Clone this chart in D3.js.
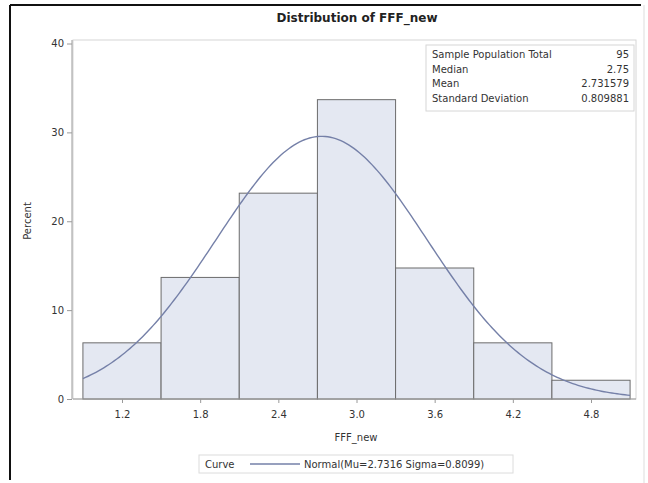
<!DOCTYPE html>
<html>
<head>
<meta charset="utf-8">
<script src="https://cdn.jsdelivr.net/npm/d3@7"></script>
<style>
  body { margin: 0; background: #fff; }
  svg { display: block; font-family: "DejaVu Sans", "Liberation Sans", Arial, sans-serif; }
</style>
</head>
<body>
<svg id="chart" width="648" height="483"></svg>
<script>
// 読み取った値
const binMids = [1.2, 1.8, 2.4, 3.0, 3.6, 4.2, 4.8];
const binWidth = 0.6;
const percents = [6.32, 13.68, 23.16, 33.68, 14.74, 6.32, 2.11];
const yTicks = [0, 10, 20, 30, 40];
const xTicks = [1.2, 1.8, 2.4, 3.0, 3.6, 4.2, 4.8];
const statLabels = ['Sample Population Total', 'Median', 'Mean', 'Standard Deviation'];
const statValues = ['95', '2.75', '2.731579', '0.809881'];
const mu = 2.7316;
const sigma = 0.8099;

const svg = d3.select('#chart');
const font = '"DejaVu Sans", "Liberation Sans", Arial, sans-serif';

// 外枠
svg.append('line').attr('x1', 10).attr('y1', 5).attr('x2', 10).attr('y2', 480)
  .attr('stroke', '#111').attr('stroke-width', 2);
svg.append('line').attr('x1', 10).attr('y1', 5).attr('x2', 641).attr('y2', 5)
  .attr('stroke', '#111').attr('stroke-width', 2);
svg.append('line').attr('x1', 644).attr('y1', 5).attr('x2', 644).attr('y2', 483)
  .attr('stroke', '#ddd').attr('stroke-width', 1);

const x = d3.scaleLinear().domain([1.2, 4.8]).range([122, 591]);
const y = d3.scaleLinear().domain([0, 40]).range([399, 43.5]);

const plot = { left: 73, top: 40, right: 636, bottom: 399 };

// 壁の枠
svg.append('rect')
  .attr('x', plot.left).attr('y', plot.top)
  .attr('width', plot.right - plot.left).attr('height', plot.bottom - plot.top)
  .attr('fill', 'none').attr('stroke', '#d6d6d6');

svg.append('text')
  .attr('x', 357).attr('y', 22)
  .attr('text-anchor', 'middle')
  .attr('font-size', 12).attr('font-weight', 'bold').attr('fill', '#222')
  .text('Distribution of FFF_new');

// 棒
svg.append('g').selectAll('rect')
  .data(binMids)
  .join('rect')
  .attr('x', (d) => x(d - binWidth / 2))
  .attr('y', (d, i) => y(percents[i]))
  .attr('width', (d) => x(d + binWidth / 2) - x(d - binWidth / 2))
  .attr('height', (d, i) => y(0) - y(percents[i]))
  .attr('fill', '#e4e8f2')
  .attr('stroke', '#6b6b6b')
  .attr('stroke-width', 1);

// 正規分布曲線（Mu, Sigma から）
const pdf = v => Math.exp(-0.5 * ((v - mu) / sigma) ** 2) / (sigma * Math.sqrt(2 * Math.PI));
const curveXs = d3.range(0.9, 5.1001, 0.02);
svg.append('path')
  .datum(curveXs)
  .attr('d', d3.line().x(d => x(d)).y(d => y(100 * binWidth * pdf(d))))
  .attr('fill', 'none')
  .attr('stroke', '#7580a8')
  .attr('stroke-width', 1.4);

// 軸
const yAxis = svg.append('g')
  .attr('transform', `translate(${plot.left - 1},0)`)
  .call(d3.axisLeft(y).tickValues(yTicks).tickSize(5).tickPadding(3));
const xAxis = svg.append('g')
  .attr('transform', `translate(0,${plot.bottom})`)
  .call(d3.axisBottom(x).tickValues(xTicks).tickFormat(d3.format('.1f')).tickSize(4).tickPadding(8));

[yAxis, xAxis].forEach(g => {
  g.select('.domain').attr('stroke', '#9a9a9a');
  g.selectAll('.tick line').attr('stroke', '#9a9a9a');
  g.selectAll('.tick text').attr('fill', '#333').attr('font-size', 10)
    .attr('font-family', font);
});
xAxis.select('.domain').attr('d', `M${plot.left},0H${plot.right}`);
yAxis.select('.domain').attr('d', `M0,${plot.top}V${plot.bottom}`);

svg.append('text')
  .attr('x', 356).attr('y', 441)
  .attr('text-anchor', 'middle').attr('font-size', 10).attr('fill', '#333')
  .text('FFF_new');

svg.append('text')
  .attr('transform', 'translate(31,221) rotate(-90)')
  .attr('text-anchor', 'middle').attr('font-size', 10).attr('fill', '#333')
  .text('Percent');

// 統計量の表
const inset = svg.append('g');
inset.append('rect')
  .attr('x', 426).attr('y', 45).attr('width', 208).attr('height', 66)
  .attr('fill', '#fff').attr('stroke', '#d6d6d6');
inset.selectAll('text.lab')
  .data(statLabels)
  .join('text')
  .attr('class', 'lab')
  .attr('x', 432).attr('y', (d, i) => 58 + i * 14.5)
  .attr('font-size', 10).attr('fill', '#333')
  .text(d => d);
inset.selectAll('text.val')
  .data(statValues)
  .join('text')
  .attr('class', 'val')
  .attr('x', 629).attr('y', (d, i) => 58 + i * 14.5)
  .attr('text-anchor', 'end')
  .attr('font-size', 10).attr('fill', '#333')
  .text(d => d);

// 凡例
const legend = svg.append('g');
legend.append('rect')
  .attr('x', 199).attr('y', 455).attr('width', 314).attr('height', 18)
  .attr('fill', '#fff').attr('stroke', '#dcdcdc');
legend.append('text')
  .attr('x', 205).attr('y', 468)
  .attr('font-size', 10).attr('fill', '#333')
  .text('Curve');
legend.append('line')
  .attr('x1', 250).attr('x2', 300).attr('y1', 464).attr('y2', 464)
  .attr('stroke', '#7580a8').attr('stroke-width', 1.4);
legend.append('text')
  .attr('x', 304).attr('y', 468)
  .attr('font-size', 10).attr('fill', '#333')
  .text(`Normal(Mu=${mu} Sigma=${sigma})`);
</script>
</body>
</html>
